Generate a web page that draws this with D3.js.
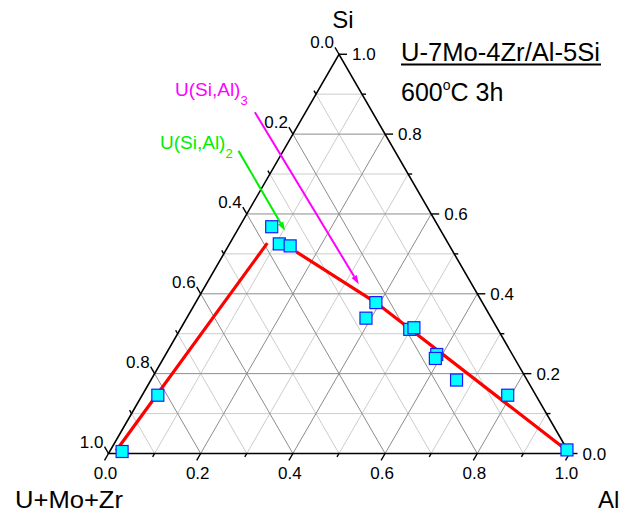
<!DOCTYPE html>
<html>
<head>
<meta charset="utf-8">
<script src="https://cdn.jsdelivr.net/npm/d3@7"></script>
<style>
  body { margin: 0; background: #fff; }
  svg { font-family: "Liberation Sans", Arial, Helvetica, sans-serif; }
</style>
</head>
<body>
<div id="chart"></div>
<script>
// Ternary data: Al and Si fractions (U+Mo+Zr = 1 - Al - Si)
const pointAl = [0.027, 0.034, 0.070, 0.108, 0.134, 0.391, 0.389, 0.498, 0.505, 0.588, 0.590, 0.663, 0.793, 0.990];
const pointSi = [0.005, 0.146, 0.568, 0.525, 0.520, 0.378, 0.339, 0.311, 0.315, 0.248, 0.238, 0.184, 0.146, 0.009];

// red tie lines
const line1Al = [0.013, 0.081];
const line1Si = [0.007, 0.527];
const line2Al = [0.155, 0.391, 0.990];
const line2Si = [0.505, 0.378, 0.008];

// phase arrows (start, end) in Al / Si
const arrow3Al = [-0.110, 0.331];
const arrow3Si = [0.855, 0.424];
const arrow2Al = [-0.097, 0.104];
const arrow2Si = [0.758, 0.558];

const majorTicks = [0, 0.2, 0.4, 0.6, 0.8, 1.0];
const minorTicks = [0.1, 0.3, 0.5, 0.7, 0.9];
const axisTitles = ["U+Mo+Zr", "Al", "Si"];

const width = 632, height = 514;
const X0 = 108.5, W = 461, Y0 = 453.5, H = W * Math.sqrt(3) / 2;

const svg = d3.select("#chart").append("svg")
    .attr("width", width)
    .attr("height", height);

// scales: horizontal position and Si height
const x = d3.scaleLinear().domain([0, 1]).range([X0, X0 + W]);
const y = d3.scaleLinear().domain([0, 1]).range([Y0, Y0 - H]);
const proj = (al, si) => [x(al + si / 2), y(si)];

const line = d3.line();

// grid
const gridG = svg.append("g");
function gridLines(vals, color) {
    vals.forEach(c => {
        if (c <= 0 || c >= 1) return;
        // constant Si
        gridG.append("path").attr("d", line([proj(0, c), proj(1 - c, c)]))
            .attr("stroke", color).attr("stroke-width", 1).attr("fill", "none");
        // constant Al
        gridG.append("path").attr("d", line([proj(c, 0), proj(c, 1 - c)]))
            .attr("stroke", color).attr("stroke-width", 1).attr("fill", "none");
        // constant U
        gridG.append("path").attr("d", line([proj(1 - c, 0), proj(0, 1 - c)]))
            .attr("stroke", color).attr("stroke-width", 1).attr("fill", "none");
    });
}
gridLines(minorTicks, "#cccccc");
gridLines(majorTicks, "#8c8c8c");

// triangle frame
svg.append("path")
    .attr("d", line([proj(0, 0), proj(1, 0), proj(0, 1)]) + "Z")
    .attr("fill", "none")
    .attr("stroke", "#000")
    .attr("stroke-width", 1.6);

// ticks and labels
const axesG = svg.append("g");
const fmt = d3.format(".1f");
const s3 = Math.sqrt(3) / 2;
const axes = [
    { pos: t => proj(t, 0), dir: [-0.5, s3] },        // bottom: Al
    { pos: t => proj(1 - t, t), dir: [1, 0] },        // right: Si
    { pos: t => proj(0, 1 - t), dir: [-0.5, -s3] }    // left: U+Mo+Zr
];
axes.forEach((ax, i) => {
    [[majorTicks, 8], [minorTicks, 4]].forEach(([vals, len]) => {
        vals.forEach(t => {
            const p = ax.pos(t);
            axesG.append("path")
                .attr("d", line([p, [p[0] + ax.dir[0] * len, p[1] + ax.dir[1] * len]]))
                .attr("stroke", "#000").attr("stroke-width", 1.4);
        });
    });
    majorTicks.forEach(t => {
        const p = ax.pos(t);
        const e = [p[0] + ax.dir[0] * 8, p[1] + ax.dir[1] * 8];
        const txt = axesG.append("text").attr("font-size", 17).text(fmt(t));
        if (i === 0) {
            txt.attr("x", e[0] + 1).attr("y", e[1] + 19).attr("text-anchor", "middle");
        } else if (i === 1) {
            txt.attr("x", e[0] + 5).attr("y", e[1] + 6).attr("text-anchor", "start");
        } else {
            txt.attr("x", e[0] - 1).attr("y", e[1] + 1).attr("text-anchor", "end");
        }
    });
});

// axis titles
svg.append("text").attr("x", 15).attr("y", 508).attr("font-size", 24)
    .attr("textLength", 108).attr("lengthAdjust", "spacingAndGlyphs").text(axisTitles[0]);
svg.append("text").attr("x", 598).attr("y", 508).attr("font-size", 24).text(axisTitles[1]);
svg.append("text").attr("x", 343).attr("y", 28).attr("font-size", 24)
    .attr("text-anchor", "middle").text(axisTitles[2]);

// red lines
[[line1Al, line1Si], [line2Al, line2Si]].forEach(([al, si]) => {
    svg.append("path")
        .attr("d", line(al.map((a, k) => proj(a, si[k]))))
        .attr("fill", "none")
        .attr("stroke", "#ff0000")
        .attr("stroke-width", 3.2);
});

// arrows
function arrow(al, si, color) {
    const a = proj(al[0], si[0]), b = proj(al[1], si[1]);
    const ang = Math.atan2(b[1] - a[1], b[0] - a[0]);
    const L = 9, w = 3;
    const base = [b[0] - L * Math.cos(ang), b[1] - L * Math.sin(ang)];
    svg.append("path").attr("d", line([a, base]))
        .attr("stroke", color).attr("stroke-width", 2).attr("fill", "none");
    svg.append("path")
        .attr("d", line([
            b,
            [base[0] + w * Math.sin(ang), base[1] - w * Math.cos(ang)],
            [base[0] - w * Math.sin(ang), base[1] + w * Math.cos(ang)]
        ]) + "Z")
        .attr("fill", color);
}
arrow(arrow3Al, arrow3Si, "#ff00ff");
arrow(arrow2Al, arrow2Si, "#00ee00");

// phase labels
function phaseLabel(px, py, sub, color) {
    const t = svg.append("text").attr("x", px).attr("y", py)
        .attr("font-size", 19).attr("fill", color);
    t.append("tspan").text("U(Si,Al)");
    t.append("tspan").attr("font-size", 13).attr("dy", 9).text(sub);
}
phaseLabel(175, 96, "3", "#ff00ff");
phaseLabel(160, 149, "2", "#00ee00");

// data points
const sq = 12;
svg.append("g").selectAll("rect")
    .data(pointAl.map((a, k) => proj(a, pointSi[k])))
    .join("rect")
    .attr("x", d => d[0] - sq / 2)
    .attr("y", d => d[1] - sq / 2)
    .attr("width", sq)
    .attr("height", sq)
    .attr("fill", "#00ffff")
    .attr("stroke", "#1a1aff")
    .attr("stroke-width", 1.2);

// title block
svg.append("text").attr("x", 401).attr("y", 61).attr("font-size", 25)
    .attr("textLength", 199).attr("lengthAdjust", "spacingAndGlyphs")
    .text("U-7Mo-4Zr/Al-5Si");
svg.append("path").attr("d", line([[401, 64.5], [601, 64.5]]))
    .attr("stroke", "#000").attr("stroke-width", 1.8);
const t2 = svg.append("text").attr("x", 401).attr("y", 101).attr("font-size", 25);
t2.append("tspan").text("600");
t2.append("tspan").attr("font-size", 14).attr("dy", -11).text("o");
t2.append("tspan").attr("dy", 11).text("C 3h");
</script>
</body>
</html>
